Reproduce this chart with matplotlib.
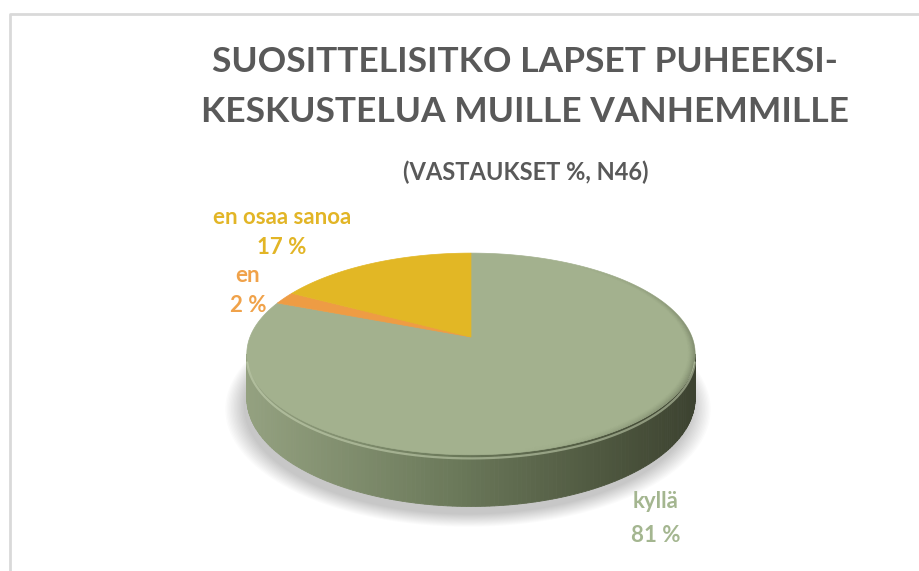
import numpy as np
import matplotlib
matplotlib.use("Agg")
import matplotlib.pyplot as plt
from matplotlib.patches import Polygon
from matplotlib.collections import PolyCollection
from matplotlib.colors import to_rgb

# ---- data ----
categories = ["kyllä", "en", "en osaa sanoa"]
values = [81, 2, 17]
value_labels = ["81 %", "2 %", "17 %"]
title_lines = ["SUOSITTELISITKO LAPSET PUHEEKSI-", "KESKUSTELUA MUILLE VANHEMMILLE"]
subtitle = "(VASTAUKSET %, N46)"

# ---- style ----
top_colors = ["#A3B18E", "#EE9C44", "#E2B725"]
label_colors = ["#A4B690", "#F0A24A", "#E2B526"]
title_color = "#595959"
FONT = ["Lato", "DejaVu Sans"]

W, H = 919, 571
fig = plt.figure(figsize=(W / 100, H / 100), dpi=100)
ax = fig.add_axes([0, 0, 1, 1])
ax.set_xlim(0, W)
ax.set_ylim(H, 0)
ax.axis("off")

# border
ax.plot([10, 10, W + 5], [H + 5, 13.5, 13.5], color="#D9D9D9", lw=2, solid_capstyle="butt")

# perspective geometry of the pie
CX, CY, A, B, K, D = 471, 337, 221, 98, 0.168, 43


def proj(u, v, z=0.0):
    w = 1 + K * v
    return CX + A * u / w, CY - (B * v + D * z) / w


def arc(t0, t1, n=200, z=0.0, s=1.0):
    t = np.radians(np.linspace(t0, t1, n))
    return proj(s * np.sin(t), s * np.cos(t), z)


# shadow
for i, s in enumerate(np.linspace(1.08, 1.0, 14)):
    x, y = arc(0, 360, 361, z=-1.0, s=s)
    ax.add_patch(Polygon(np.c_[x - 3, y + 8], closed=True, fc="#000000", ec="none", alpha=0.014))

# side wall (front half)
th0 = 90 + np.degrees(np.arcsin(K))
th1 = 270 - np.degrees(np.arcsin(K))
N = 160
edges = np.linspace(th0, th1, N + 1)
xs_all, _ = arc(th0, th1, 400)
xmin, xmax = xs_all.min(), xs_all.max()
stops = [(0.0, "#94A180"), (0.45, "#6C7A5B"), (0.8, "#4E573F"), (1.0, "#3C4230")]
sp = np.array([p for p, _ in stops])
sc = np.array([to_rgb(c) for _, c in stops])


def grad(t):
    return tuple(np.interp(t, sp, sc[:, k]) for k in range(3))


for i in range(N):
    a0, a1 = edges[i], edges[i + 1]
    xt, yt = arc(a0, a1, 4, z=0.0)
    xb, yb = arc(a1, a0, 4, z=-1.0)
    poly = np.c_[np.r_[xt, xb], np.r_[yt, yb]]
    xm = poly[:, 0].mean()
    c = grad((xm - xmin) / (xmax - xmin))
    ax.add_patch(Polygon(poly, closed=True, fc=c, ec=c, lw=0.6))

# rim highlight on side top
x, y = arc(th0 + 3, th1 - 3, 300, z=-0.07)
ax.plot(x, y, color="#C9D5B5", lw=1.6, alpha=0.55, solid_capstyle="round")

# top face slices
start = 0.0
total = sum(values)
for val, col in zip(values, top_colors):
    end = start + 360.0 * val / total
    x, y = arc(start, end, 200)
    cx0, cy0 = proj(0, 0)
    poly = np.c_[np.r_[cx0, x], np.r_[cy0, y]]
    ax.add_patch(Polygon(poly, closed=True, fc=col, ec=col, lw=0.5))
    start = end

# soft bevel shading along the right rim of the top face
polys, cols = [], []
nb = 8
angs = np.arange(30, 172, 2.0)
for j in range(nb):
    s_out = 1.0 - 0.004 * j
    s_in = 1.0 - 0.004 * (j + 1)
    for a0 in angs:
        a1 = a0 + 2.0
        xo, yo = arc(a0, a1, 3, s=s_out)
        xi, yi = arc(a1, a0, 3, s=s_in)
        mid = np.radians(a0 + 1.0)
        peak = np.clip(np.sin((mid - np.radians(30)) / np.radians(142) * np.pi), 0, 1) ** 1.5
        al = 0.28 * peak * (1 - j / nb) ** 1.5
        polys.append(np.c_[np.r_[xo, xi], np.r_[yo, yi]])
        cols.append((0.18, 0.20, 0.14, al))
ax.add_collection(PolyCollection(polys, facecolors=cols, edgecolors="none"))

# titles
ax.text(525, 62, title_lines[0], ha="center", va="center", fontsize=25.5, fontweight="bold",
        color=title_color, family=FONT)
ax.text(525, 112, title_lines[1], ha="center", va="center", fontsize=25.5, fontweight="bold",
        color=title_color, family=FONT)
ax.text(526, 172, subtitle, ha="center", va="center", fontsize=17, fontweight="bold",
        color=title_color, family=FONT)

# data labels
label_pos = [(656, 502, 535), (248, 276, 305), (282, 217, 247)]
for cat, vl, col, (lx, ly1, ly2) in zip(categories, value_labels, label_colors, label_pos):
    ax.text(lx, ly1, cat, ha="center", va="center", fontsize=16, fontweight="bold", color=col, family=FONT)
    ax.text(lx, ly2, vl, ha="center", va="center", fontsize=16, fontweight="bold", color=col, family=FONT)

fig.savefig("out.png", dpi=100)
